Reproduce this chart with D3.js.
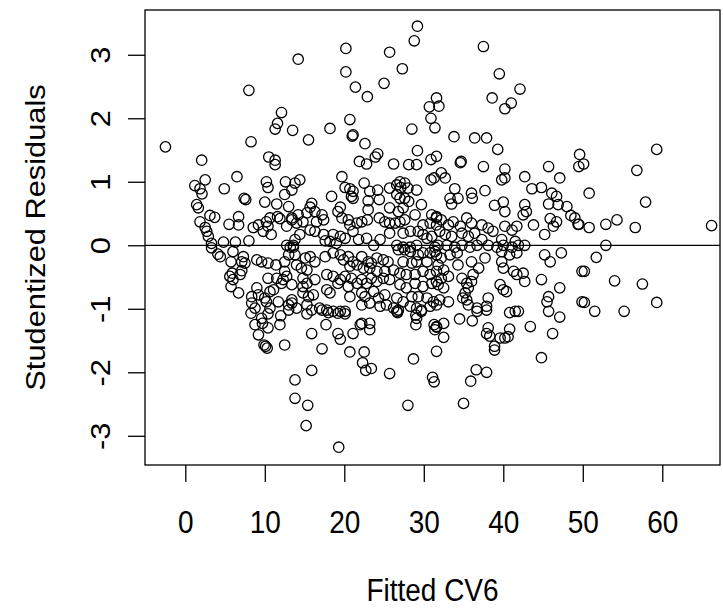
<!DOCTYPE html>
<html>
<head>
<meta charset="utf-8">
<script src="https://cdn.jsdelivr.net/npm/d3@7"></script>
<style>
  body { margin: 0; background: #fff; }
  text { font-family: "Liberation Sans", Arial, sans-serif; }
</style>
</head>
<body>
<svg id="chart" width="723" height="608"></svg>
<script>
// axis setup
var xTicks = [0, 10, 20, 30, 40, 50, 60];
var yTicks = [-3, -2, -1, 0, 1, 2, 3];
var xLabel = "Fitted CV6";
var yLabel = "Studentized Residuals";
var xLim = [-5.07, 67.26];
var yLim = [-3.46, 3.705];

// [fitted, studentized residual]
var upperPoints = [
  [-2.5,1.55],[2.06,1.34],[8.0,2.44],[8.27,1.63],[12.1,2.09],[11.6,1.92],[11.3,1.83],[13.5,1.81],[14.2,2.93],[10.5,1.39],[11.3,1.34],[11.3,1.27],
  [20.2,3.10],[20.2,2.73],[21.4,2.49],[22.9,2.34],[25.7,3.04],[25.0,2.55],[27.3,2.78],[28.8,3.22],[29.2,3.45],[31.6,2.32],[30.7,2.18],[30.9,2.0],
  [31.4,1.85],[31.9,2.19],[28.5,1.83],[20.7,1.98],[15.5,1.66],[18.2,1.84],[21.0,1.72],[21.1,1.74],[22.6,1.60],[24.2,1.44],[23.9,1.39],[21.9,1.32],
  [22.8,1.28],[26.2,1.28],[28.1,1.27],[29.1,1.27],[29.2,1.49],[30.9,1.35],[31.6,1.40],
  [37.5,3.13],[39.5,2.70],[42.1,2.46],[38.6,2.32],[41.0,2.24],[40.2,2.15],[33.8,1.71],[36.4,1.69],[37.9,1.69],[39.3,1.51],[34.6,1.30],[34.7,1.32],
  [37.5,1.24],[40.2,1.20],[45.7,1.24],[49.6,1.43],[49.5,1.24],[59.3,1.51],[50.1,1.28],[56.8,1.18]
];

var rightPoints = [
  [50.8,0.82],[57.9,0.68],[49.0,0.43],[49.4,0.33],[50.8,0.28],[52.9,0.33],[54.3,0.40],[56.6,0.28],[66.2,0.31],[52.9,0.0],[51.7,-0.19],[50.2,-0.41],
  [54.0,-0.56],[57.5,-0.61],[50.2,-0.90],[51.5,-1.04],[55.2,-1.04],[59.3,-0.90]
];

var lowerPoints = [
  [47.1,-1.13],[45.7,-1.04],[43.4,-1.28],[46.2,-1.39],[44.8,-1.77],[40.8,-1.32],[40.6,-1.44],[40.2,-1.46],[39.6,-1.46],[38.9,-1.59],[38.9,-1.65],
  [38.1,-1.30],[37.9,-1.39],[38.3,-1.43],[41.5,-1.04],[40.8,-1.06],[41.9,-1.04],[36.6,-1.96],[37.9,-2.0],[35.9,-2.14],[35.0,-2.49],[34.5,-1.16],
  [36.1,-1.19],[32.5,-1.23],[32.5,-1.45],[31.6,-1.28],[31.6,-1.67],[36.7,-1.04],[37.9,-1.02],
  [15.3,-1.08],[17.2,-1.02],[18.0,-1.06],[19.2,-1.07],[20.1,-1.08],[17.7,-1.25],[15.9,-1.39],[19.2,-1.39],[19.5,-1.48],[21.1,-1.39],[22.2,-1.23],
  [23.2,-1.23],[23.2,-1.33],[22.0,-1.25],[17.2,-1.63],[20.7,-1.68],[22.5,-1.68],[22.3,-1.85],[22.7,-1.97],[23.4,-1.94],[25.7,-2.02],[28.7,-1.79],
  [15.9,-1.97],[13.8,-2.12],[13.8,-2.41],[15.4,-2.52],[15.2,-2.84],[19.3,-3.18],[28.0,-2.52],[26.6,-1.04],[26.7,-1.06],[29.0,-1.10],[29.0,-1.25],
  [29.7,-1.04],[29.1,-1.15],[31.3,-1.25],[31.6,-1.29],[31.4,-1.33],[31.1,-2.08],[31.3,-2.15],
  [8.27,-1.07],[9.6,-1.15],[10.4,-1.08],[12.0,-1.11],[8.77,-1.25],[9.7,-1.23],[10.4,-1.30],[11.9,-1.25],[9.2,-1.41],[9.9,-1.57],[10.1,-1.59],
  [10.3,-1.62],[12.5,-1.57],[13.0,-1.02]
];

var leftPoints = [
  [2.5,1.03],[1.2,0.94],[1.85,0.89],[2.1,0.81],[4.9,0.89],[6.5,1.08],[7.4,0.74],[7.6,0.72],[10.2,1.0],[10.4,0.91],[12.6,1.0],[13.4,0.87],[12.5,0.80],
  [10.0,0.68],[11.5,0.65],[13.0,0.61],[1.43,0.64],[1.64,0.59],[3.1,0.47],[3.7,0.44],[1.85,0.37],[2.5,0.28],[2.7,0.22],[2.9,0.14],[3.3,0.03],
  [3.3,-0.04],[6.7,0.45],[5.5,0.33],[6.7,0.32],[4.8,0.05],[6.3,0.05],[8.0,0.07],[8.55,0.28],[9.2,0.32],[10.2,0.37],[10.65,0.43],[11.6,0.45],
  [11.9,0.42],[10.4,0.30],[10.8,0.17],[12.75,0.30],[13.4,0.40],[9.8,0.22],[4.1,-0.14],[4.4,-0.18],[6.0,-0.10],[5.75,-0.26],[7.3,-0.18],[7.1,-0.26],
  [7.5,-0.28],[5.9,-0.44],[5.6,-0.49],[6.0,-0.54],[7.1,-0.40],[6.9,-0.46],[9.0,-0.23],[9.6,-0.26],[10.4,-0.28],[11.4,-0.31],[12.75,0.0],[13.2,-0.03],
  [13.6,-0.03],[12.5,-0.26],[13.0,-0.15],[12.5,-0.41],[12.75,-0.49],[12.3,-0.54],[10.4,-0.52],[11.5,-0.52],[5.75,-0.65],[6.7,-0.75],[9.0,-0.67],
  [9.2,-0.78],[8.35,-0.81],[10.0,-0.83],[10.65,-0.73],[11.1,-0.70],[8.35,-0.91],[8.77,-0.99],[10.2,-0.89],[10.65,-0.99],[11.7,-0.89],[13.0,-0.94],
  [13.4,-0.86],[12.1,-0.60],[13.4,-0.62]
];

var midPoints = [
  [19.7,1.08],[14.4,1.03],[13.8,0.98],[22.5,0.98],[20.1,0.91],[20.7,0.89],[21.1,0.85],[23.2,0.85],[24.2,0.87],[25.7,0.90],[26.6,0.95],[27.1,0.91],
  [28.0,0.90],[29.1,0.87],[27.0,1.0],[27.6,0.98],[30.9,1.03],[31.3,1.06],[18.4,0.77],[20.9,0.77],[21.1,0.74],[23.0,0.70],[24.4,0.72],[26.6,0.80],
  [27.0,0.74],[27.6,0.74],[28.1,0.69],[29.7,0.64],[15.9,0.66],[15.7,0.60],[19.5,0.60],[19.2,0.53],[23.0,0.56],[25.7,0.59],[26.8,0.53],[27.4,0.59],
  [28.9,0.48],[31.0,0.48],[31.6,0.43],[14.2,0.48],[15.3,0.51],[16.3,0.53],[13.4,0.43],[14.0,0.35],[14.8,0.37],[17.2,0.48],[17.4,0.40],[16.5,0.37],
  [19.7,0.43],[20.5,0.40],[20.7,0.32],[21.6,0.35],[22.2,0.37],[22.9,0.40],[24.4,0.43],[25.1,0.37],[25.7,0.35],[26.4,0.35],[27.0,0.37],[27.6,0.40],
  [29.9,0.32],[30.8,0.35],[31.6,0.32],[18.6,0.17],[19.5,0.14],[20.1,0.11],[18.2,0.06],[19.0,0.03],[17.4,0.17],[17.6,0.07],[14.4,0.17],[13.6,0.0],
  [13.8,0.09],[15.7,0.24],[16.3,0.22],[21.1,0.22],[21.8,0.09],[22.8,0.11],[23.7,0.0],[24.5,0.09],[25.7,0.19],[27.4,0.19],[28.3,0.22],[29.3,0.22],
  [29.9,0.17],[30.4,0.11],[31.0,0.14],[26.6,0.0],[27.4,-0.03],[28.3,-0.03],[29.1,0.0],[31.4,-0.03],[31.4,-0.10],
  [13.8,-0.15],[15.1,-0.20],[15.7,-0.18],[16.3,-0.26],[14.0,-0.31],[14.6,-0.36],[15.3,-0.39],[17.6,-0.18],[18.6,-0.12],[19.5,-0.15],[19.9,-0.23],
  [20.5,-0.18],[21.1,-0.26],[20.7,-0.33],[21.6,-0.31],[22.2,-0.18],[23.0,-0.26],[23.4,-0.28],[24.1,-0.20],[24.9,-0.23],[25.5,-0.26],[22.4,-0.36],
  [23.2,-0.36],[24.1,-0.41],[25.1,-0.41],[26.2,-0.39],[26.8,-0.07],[27.6,-0.07],[28.3,-0.10],[29.3,-0.15],[29.9,-0.12],[30.8,-0.12],[27.4,-0.26],
  [28.5,-0.28],[29.1,-0.26],[30.4,-0.26],[27.0,-0.44],[27.8,-0.46],[28.9,-0.46],[29.9,-0.41],[30.8,-0.46],[31.6,-0.41],[14.8,-0.52],[15.3,-0.60],
  [14.8,-0.65],[16.3,-0.54],[17.8,-0.46],[18.6,-0.49],[19.5,-0.54],[20.1,-0.49],[20.9,-0.52],[19.2,-0.60],[20.5,-0.65],[21.6,-0.60],[22.2,-0.54],
  [22.8,-0.60],[23.4,-0.52],[24.1,-0.57],[24.9,-0.52],[25.7,-0.54],[27.0,-0.62],[27.8,-0.67],[28.9,-0.60],[29.9,-0.65],[31.0,-0.60],[31.6,-0.57],
  [14.8,-0.75],[15.5,-0.81],[16.1,-0.78],[17.8,-0.70],[18.2,-0.75],[20.7,-0.81],[22.2,-0.75],[22.6,-0.81],[23.7,-0.73],[24.3,-0.83],[25.1,-0.78],
  [26.6,-0.83],[27.4,-0.89],[28.5,-0.81],[29.3,-0.81],[30.4,-0.83],[31.2,-0.89],[13.4,-0.91],[14.0,-0.99],[15.3,-0.94],[15.9,-1.02],[16.9,-0.99],
  [17.8,-1.02],[18.6,-1.04],[19.5,-1.04],[20.1,-1.04],[22.2,-0.94],[23.2,-0.91],[24.5,-0.96],[25.3,-0.94],[26.2,-0.99],[26.8,-1.02],[28.3,-0.96],
  [29.1,-0.99],[29.7,-1.02],[30.8,-0.96],[31.6,-0.94]
];

var midRightPoints = [
  [39.8,1.03],[40.2,1.06],[42.7,1.08],[47.1,1.06],[32.2,1.14],[32.7,1.06],[33.9,0.89],[34.3,0.74],[33.3,0.74],[33.5,0.65],[36.0,0.82],[36.1,0.74],
  [37.7,0.86],[40.0,0.68],[40.2,0.53],[38.9,0.63],[42.7,0.64],[42.9,0.53],[42.5,0.48],[43.6,0.89],[44.8,0.91],[46.1,0.82],[46.7,0.77],[45.7,0.65],
  [46.9,0.64],[48.0,0.61],[48.5,0.47],[49.5,0.33],[45.9,0.42],[46.7,0.37],[46.3,0.30],[43.8,0.32],[45.2,0.17],[31.6,0.45],[32.2,0.40],[33.1,0.32],
  [33.7,0.37],[34.6,0.30],[35.4,0.43],[36.0,0.35],[37.3,0.32],[38.1,0.27],[38.7,0.22],[40.2,0.30],[41.1,0.24],[41.7,0.30],[32.0,0.22],[32.7,0.17],
  [33.5,0.14],[34.8,0.19],[35.6,0.14],[36.4,0.19],[31.8,0.0],[32.9,0.0],[33.9,-0.03],[34.8,0.0],[35.8,-0.03],[36.7,0.0],[38.1,0.0],[39.2,-0.03],
  [40.0,0.0],[41.1,-0.03],[41.9,0.0],[42.7,0.0],[37.3,0.09],[39.8,0.09],[41.5,0.06],[31.6,-0.15],[32.2,-0.20],[33.3,-0.15],[34.2,-0.12],[37.7,-0.20],
  [39.8,-0.10],[40.8,-0.15],[41.7,-0.12],[45.2,-0.15],[45.9,-0.26],[47.3,-0.12],[31.8,-0.31],[32.5,-0.39],[34.3,-0.31],[36.0,-0.26],[36.9,-0.36],
  [39.8,-0.26],[40.0,-0.36],[41.3,-0.41],[41.7,-0.46],[42.5,-0.44],[42.7,-0.57],[44.8,-0.54],[47.1,-0.67],[49.9,-0.41],[32.2,-0.52],[33.1,-0.49],
  [31.8,-0.62],[32.5,-0.67],[34.8,-0.52],[35.4,-0.60],[35.6,-0.67],[35.2,-0.75],[34.9,-0.83],[36.2,-0.46],[36.0,-0.57],[39.6,-0.62],[40.0,-0.70],
  [40.4,-0.73],[45.7,-0.81],[45.5,-0.89],[49.9,-0.89],[32.0,-0.86],[33.1,-0.89],[35.4,-0.86],[35.6,-0.94],[36.7,-0.99],[38.1,-0.83],[37.9,-0.96]
];

var points = [].concat(upperPoints, rightPoints, lowerPoints, leftPoints, midPoints, midRightPoints);

// plot region in pixels
var box = { left: 145, right: 720, top: 10, bottom: 465 };
var fontSize = 28;
var stretch = 1.1; // the reference's glyphs are a bit taller than wide

var svg = d3.select("#chart");

var x = d3.scaleLinear().domain(xLim).range([box.left, box.right]);
var y = d3.scaleLinear().domain(yLim).range([box.bottom, box.top]);

// clip points to the box like R does
svg.append("clipPath").attr("id", "plotclip")
  .append("rect")
  .attr("x", box.left).attr("y", box.top)
  .attr("width", box.right - box.left).attr("height", box.bottom - box.top);

// zero line
svg.append("line")
  .attr("x1", box.left).attr("x2", box.right)
  .attr("y1", y(0)).attr("y2", y(0))
  .attr("stroke", "#000").attr("stroke-width", 1.2);

svg.append("g").attr("clip-path", "url(#plotclip)")
  .selectAll("circle")
  .data(points)
  .enter().append("circle")
  .attr("cx", function(d) { return x(d[0]); })
  .attr("cy", function(d) { return y(d[1]); })
  .attr("r", 5.2)
  .attr("fill", "none")
  .attr("stroke", "#000")
  .attr("stroke-width", 1.3);

// box
svg.append("rect")
  .attr("x", box.left).attr("y", box.top)
  .attr("width", box.right - box.left).attr("height", box.bottom - box.top)
  .attr("fill", "none").attr("stroke", "#000").attr("stroke-width", 1.3);

// x axis
var xAxis = svg.append("g")
  .attr("transform", "translate(0," + box.bottom + ")")
  .call(d3.axisBottom(x).tickValues(xTicks).tickSize(17).tickSizeOuter(0).tickFormat(d3.format("d")));
xAxis.select(".domain").remove();
xAxis.selectAll("line").attr("stroke", "#000").attr("stroke-width", 1.3);
xAxis.selectAll("text")
  .attr("y", 0).attr("dy", "0.36em")
  .attr("transform", "translate(0,57) scale(1," + stretch + ")")
  .attr("fill", "#000")
  .style("font-size", fontSize + "px")
  .style("font-family", "'Liberation Sans', Arial, sans-serif");

// y axis
var yAxis = svg.append("g")
  .attr("transform", "translate(" + box.left + ",0)")
  .call(d3.axisLeft(y).tickValues(yTicks).tickSize(17).tickSizeOuter(0).tickFormat(d3.format("d")));
yAxis.select(".domain").remove();
yAxis.selectAll("line").attr("stroke", "#000").attr("stroke-width", 1.3);
yAxis.selectAll("text")
  .attr("transform", "rotate(-90) translate(0,-35) scale(" + stretch + ",1)")
  .attr("x", 0).attr("y", 0).attr("dy", 0)
  .attr("text-anchor", "middle")
  .attr("fill", "#000")
  .text(function(d) { return d < 0 ? "-" + Math.abs(d) : d; })
  .style("font-size", fontSize + "px")
  .style("font-family", "'Liberation Sans', Arial, sans-serif");

// titles
svg.append("text")
  .attr("transform", "translate(" + ((box.left + box.right) / 2) + ",601) scale(1," + stretch + ")")
  .attr("text-anchor", "middle")
  .style("font-size", fontSize + "px")
  .text(xLabel);

svg.append("text")
  .attr("transform", "translate(45," + ((box.top + box.bottom) / 2) + ") rotate(-90) scale(" + stretch + ",1)")
  .attr("text-anchor", "middle")
  .style("font-size", fontSize + "px")
  .text(yLabel);
</script>
</body>
</html>
